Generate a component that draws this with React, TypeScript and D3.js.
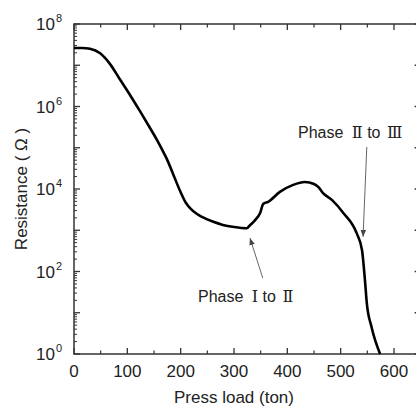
import * as d3 from "d3";

const W = 416;
const H = 410;
const MARGIN = { top: 24, left: 74, bottom: 56 };

// press load (ton) and log10 of resistance (ohm)
const pressLoad = [
  0, 15, 30, 49, 67, 86, 105, 124, 142, 156, 165, 174, 185, 199, 210, 218, 230, 242,
  260, 279, 300, 324, 330, 340, 349, 355, 364, 386, 411, 433, 450, 458, 467, 484,
  505, 530, 540, 546, 549, 558, 574,
];
const logResistance = [
  7.42, 7.42, 7.4, 7.29, 7.04, 6.66, 6.28, 5.88, 5.49, 5.18, 4.96, 4.73, 4.39, 3.95,
  3.66, 3.53, 3.4, 3.31, 3.21, 3.13, 3.08, 3.05, 3.12, 3.25, 3.42, 3.64, 3.69, 3.93,
  4.1, 4.17, 4.12, 4.05, 3.9, 3.73, 3.42, 2.93, 2.52, 1.72, 1.24, 0.65, 0,
];
const resistance = logResistance.map((v) => Math.pow(10, v));

const xTicks = [0, 100, 200, 300, 400, 500, 600];
const xMinorTicks = [50, 150, 250, 350, 450, 550, 650];
const yLabelExps = [0, 2, 4, 6, 8];
const yDecades = [0, 1, 2, 3, 4, 5, 6, 7, 8];

const annotations = [
  { pre: "Phase ", a: "Ⅰ", mid: " to ", b: "Ⅱ", tx: 198, ty: 302, from: [354, 1.84], to: [330, 2.81] },
  { pre: "Phase ", a: "Ⅱ", mid: " to ", b: "Ⅲ", tx: 298, ty: 138, from: [549, 5.02], to: [542, 2.84] },
];

const FONT = "'Liberation Sans', Arial, sans-serif";
const SERIF = "'DejaVu Serif', 'Liberation Serif', serif";
const AXIS = "#333";

export default function App() {
  const x = d3.scaleLinear().domain([0, 650]).range([MARGIN.left, MARGIN.left + 650 * 0.5333]);
  const y = d3.scaleLog().domain([1, 1e8]).range([H - MARGIN.bottom, MARGIN.top]);
  const x0 = x(0);
  const x1 = x(650);
  const y0 = y(1);
  const y1 = y(1e8);

  const line = d3
    .line<number>()
    .x((_, i) => x(pressLoad[i]))
    .y((d) => y(d))
    .curve(d3.curveMonotoneX);

  // minor ticks on log axis: 2..9 x 10^k
  const minors: number[] = [];
  for (let k = 0; k < 8; k++) for (let m = 2; m <= 9; m++) minors.push(m * Math.pow(10, k));

  return (
    <svg
      width={W}
      height={H}
      style={{ position: "absolute", left: 0, top: 0, background: "#fff" }}
      fontFamily={FONT}
    >
      <defs>
        <marker id="ah" viewBox="0 0 10 10" refX="10" refY="5" markerWidth="7" markerHeight="9" orient="auto">
          <path d="M0,1 L10,5 L0,9 Z" fill="#444" />
        </marker>
      </defs>

      {/* frame */}
      <rect x={x0} y={y1} width={x1 - x0} height={y0 - y1} fill="none" stroke={AXIS} strokeWidth={1.5} />

      {/* x ticks */}
      {xTicks.map((t) => (
        <g key={"xt" + t}>
          <line x1={x(t)} x2={x(t)} y1={y0} y2={y0 - 6} stroke={AXIS} strokeWidth={1.3} />
          <line x1={x(t)} x2={x(t)} y1={y1} y2={y1 + 6} stroke={AXIS} strokeWidth={1.3} />
          <text x={x(t)} y={377} textAnchor="middle" fontSize={17} fill="#222">
            {t}
          </text>
        </g>
      ))}
      {xMinorTicks.map((t) => (
        <g key={"xm" + t}>
          <line x1={x(t)} x2={x(t)} y1={y0} y2={y0 - 3.5} stroke={AXIS} strokeWidth={1.2} />
          <line x1={x(t)} x2={x(t)} y1={y1} y2={y1 + 3.5} stroke={AXIS} strokeWidth={1.2} />
        </g>
      ))}

      {/* y ticks */}
      {yDecades.map((e) => (
        <g key={"yd" + e}>
          <line x1={x0} x2={x0 + 6} y1={y(Math.pow(10, e))} y2={y(Math.pow(10, e))} stroke={AXIS} strokeWidth={1.3} />
          <line x1={x1} x2={x1 - 6} y1={y(Math.pow(10, e))} y2={y(Math.pow(10, e))} stroke={AXIS} strokeWidth={1.3} />
        </g>
      ))}
      {minors.map((v) => (
        <g key={"ym" + v}>
          <line x1={x0} x2={x0 + 3} y1={y(v)} y2={y(v)} stroke={AXIS} strokeWidth={1} />
          <line x1={x1} x2={x1 - 3} y1={y(v)} y2={y(v)} stroke={AXIS} strokeWidth={1} />
        </g>
      ))}
      {yLabelExps.map((e) => (
        <text key={"yl" + e} x={62} y={y(Math.pow(10, e)) + 6} textAnchor="end" fontSize={17} fill="#222">
          10
          <tspan fontSize={11} dx={1} dy={-8}>
            {e}
          </tspan>
        </text>
      ))}

      {/* curve */}
      <path d={line(resistance) ?? ""} fill="none" stroke="#000" strokeWidth={2.6} strokeLinejoin="round" />

      {/* annotations */}
      {annotations.map((a) => (
        <g key={a.a + a.b}>
          <line
            x1={x(a.from[0])}
            y1={y(Math.pow(10, a.from[1]))}
            x2={x(a.to[0])}
            y2={y(Math.pow(10, a.to[1]))}
            stroke="#666"
            strokeWidth={1}
            markerEnd="url(#ah)"
          />
          <text x={a.tx} y={a.ty} fontSize={16} fill="#222" xmlSpace="preserve">
            {a.pre}
            <tspan fontFamily={SERIF} dx={4}>{a.a}</tspan>
            {a.mid}
            <tspan fontFamily={SERIF} dx={2}>{a.b}</tspan>
          </text>
        </g>
      ))}

      {/* axis titles */}
      <text x={(x0 + x(600)) / 2} y={403} textAnchor="middle" fontSize={17} fill="#222">
        Press load (ton)
      </text>
      <text
        transform={`translate(27, ${(y0 + y1) / 2}) rotate(-90)`}
        textAnchor="middle"
        fontSize={17}
        fill="#222"
      >
        Resistance ( Ω )
      </text>
    </svg>
  );
}
